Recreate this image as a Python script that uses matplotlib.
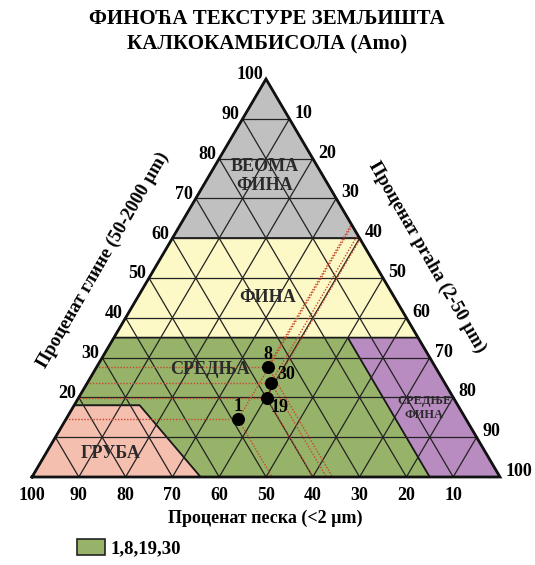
import numpy as np
import matplotlib.pyplot as plt
from matplotlib.patches import Polygon, Patch

plt.rcParams['font.family'] = ['Liberation Serif', 'DejaVu Serif']
plt.rcParams['font.weight'] = 'bold'

# samples (percent)
sample_names = ['1', '8', '19', '30']
clay = [14.5, 27.7, 19.9, 23.7]
silt = [36.8, 36.5, 40.2, 39.2]
sand = [48.7, 35.8, 39.9, 37.1]

# texture zones, vertices as (clay, silt)
zone_very_fine = [(60, 0), (100, 0), (60, 40)]
zone_fine = [(35, 0), (60, 0), (60, 40), (35, 65)]
zone_medium = [(0, 36), (18, 14), (18, 0), (35, 0), (35, 50), (0, 85)]
zone_medium_fine = [(0, 85), (35, 50), (35, 65), (0, 100)]
zone_coarse = [(0, 0), (18, 0), (18, 14), (0, 36)]
zones = [zone_very_fine, zone_fine, zone_medium, zone_medium_fine, zone_coarse]
zone_colors = ['#c0c0c1', '#fdf9c6', '#97b36a', '#b98cc1', '#f5bfb0']

tick_values = [10, 20, 30, 40, 50, 60, 70, 80, 90, 100]


def tern(c, s):
    # clay goes up, silt to the right corner, sand to the left corner
    return s + c / 2.0, c


fig = plt.figure(figsize=(5.35, 5.65), dpi=100)
ax = fig.add_axes([0, 0, 1, 1])
ax.set_xlim(-6.84, 107.48)
ax.set_ylim(-22.11, 119.85)
ax.axis('off')

# coloured zones
for verts, col in zip(zones, zone_colors):
    pts = [tern(c, s) for c, s in verts]
    ax.add_patch(Polygon(pts, closed=True, facecolor=col, edgecolor='#1a1a1a',
                         lw=1.2, zorder=1))

# grid
for v in tick_values[:-1]:
    segs = [[(v, 0), (v, 100 - v)],          # clay const
            [(0, v), (100 - v, v)],          # silt const
            [(0, 100 - v), (100 - v, 0)]]    # sand const
    for (c1, s1), (c2, s2) in segs:
        x1, y1 = tern(c1, s1)
        x2, y2 = tern(c2, s2)
        ax.plot([x1, x2], [y1, y2], color='#222222', lw=0.9, zorder=2)

# outer triangle
corners = [tern(0, 0), tern(0, 100), tern(100, 0), tern(0, 0)]
ax.plot([p[0] for p in corners], [p[1] for p in corners], color='#111111',
        lw=2.0, zorder=4, solid_joinstyle='miter')

# read-off lines for every sample
red = '#c8462a'
for c, s, sa in zip(clay, silt, sand):
    x0, y0 = tern(c, s)
    for c2, s2 in [(c, 0), (100 - s, s), (0, 100 - sa)]:
        x2, y2 = tern(c2, s2)
        ax.plot([x0, x2], [y0, y2], color=red, lw=1.0, ls=(0, (1, 1.2)), zorder=3)

xs = [tern(c, s)[0] for c, s in zip(clay, silt)]
ys = [tern(c, s)[1] for c, s in zip(clay, silt)]
ax.scatter(xs, ys, s=70, color='black', zorder=6)

name_offsets = [(0, 9), (0, 9), (9, -7), (11, 6)]
for name, x, y, off in zip(sample_names, xs, ys, name_offsets):
    ax.annotate(name, (x, y), xytext=off, textcoords='offset points',
                ha='center', va='center', fontsize=13, zorder=7)

# tick labels
for v in tick_values:
    if v >= 20:
        x, y = tern(v, 0)
        ax.annotate(str(v), (x, y), xytext=(-2, 3), textcoords='offset points',
                    ha='right', va='center', fontsize=13)
    x, y = tern(100 - v, v)
    ax.annotate(str(v), (x, y), xytext=(4, 4), textcoords='offset points',
                ha='left', va='center', fontsize=13)
    x, y = tern(0, 100 - v)
    ax.annotate(str(v), (x, y), xytext=(0, -7), textcoords='offset points',
                ha='center', va='top', fontsize=13)

# zone names
txt = '#2a2a2a'
ax.text(49.8, 75.6, 'ВЕОМА\nФИНА', ha='center', va='center', fontsize=13,
        color=txt, linespacing=1.2)
ax.text(50.4, 45.2, 'ФИНА', ha='center', va='center', fontsize=13, color=txt)
ax.text(38.0, 26.9, 'СРЕДЊА', ha='center', va='center', fontsize=13, color=txt)
ax.text(16.7, 6.0, 'ГРУБА', ha='center', va='center', fontsize=13, color=txt)
ax.text(83.8, 17.3, 'СРЕДЊЕ\nФИНА', ha='center', va='center', fontsize=9,
        color=txt)

# titles
fig.text(0.499, 0.966, 'ФИНОЋА ТЕКСТУРЕ ЗЕМЉИШТА', ha='center', va='center',
         fontsize=15, color='black')
fig.text(0.499, 0.922, 'КАЛКОКАМБИСОЛА (Amo)', ha='center', va='center',
         fontsize=15, color='black')
fig.text(0.495, 0.083, 'Проценат песка (<2 µm)', ha='center', va='center',
         fontsize=13, color='black')
fig.text(103 / 535, 1 - 260 / 565, 'Проценат глине (50-2000 µm)', ha='center',
         va='center', rotation=60, fontsize=13.5, color='black')
fig.text(427 / 535, 1 - 257 / 565, 'Проценат praha (2-50 µm)', ha='center',
         va='center', rotation=-60, fontsize=13.5, color='black')

leg = ax.legend(handles=[Patch(facecolor=zone_colors[2], edgecolor='#222222',
                               lw=1.2, label='1,8,19,30')],
                loc='center left', bbox_to_anchor=(77 / 535, 1 - 548 / 565),
                bbox_transform=fig.transFigure, frameon=False, fontsize=13.5,
                handlelength=1.5, handleheight=0.95, handletextpad=0.3,
                borderpad=0, borderaxespad=0)

fig.savefig('out.png', dpi=100)
